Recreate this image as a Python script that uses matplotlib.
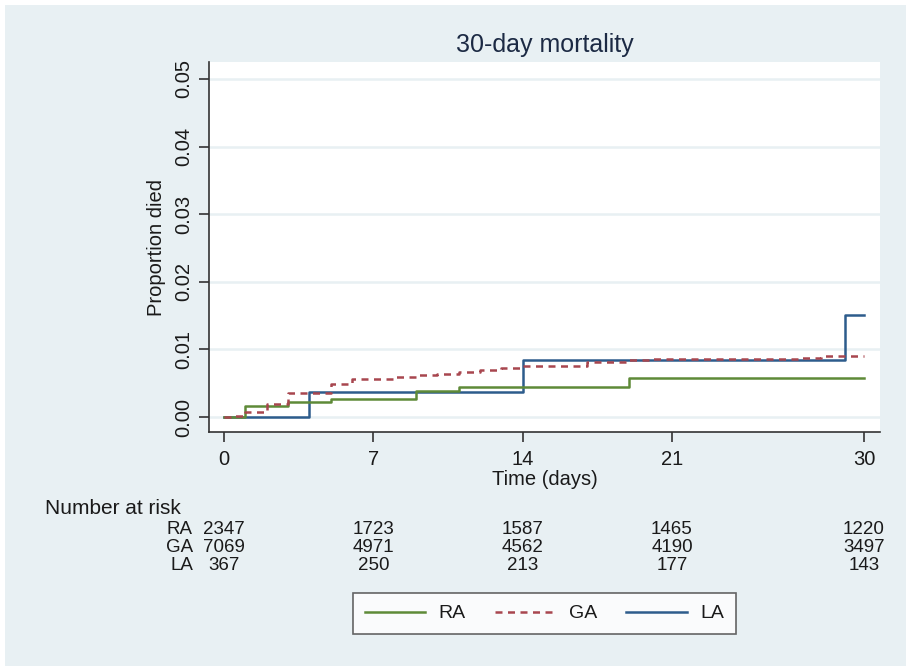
import numpy as np
import matplotlib.pyplot as plt
from matplotlib.patches import Rectangle
from matplotlib.lines import Line2D
import matplotlib.transforms as mtransforms

plt.rcParams['font.family'] = ['Liberation Sans', 'DejaVu Sans']

# Kaplan-Meier style failure curves (step at each time, value after the step)
ra_t = [0, 1, 3, 5, 9, 11, 19, 30]
ra_y = [0, 0.0016, 0.0022, 0.0027, 0.0039, 0.0045, 0.0058, 0.0058]

ga_t = [0, 0.5, 1, 2, 3, 5, 6, 8, 9, 10, 11, 12, 13, 14, 17, 19, 20, 27, 28, 30]
ga_y = [0, 0.0002, 0.0008, 0.0020, 0.0035, 0.0049, 0.0056, 0.0060, 0.0062,
        0.0064, 0.0066, 0.0070, 0.0072, 0.0076, 0.0081, 0.0084, 0.0086,
        0.0088, 0.0091, 0.0091]

la_t = [0, 4, 14, 29.1, 30]
la_y = [0, 0.0037, 0.0084, 0.0151, 0.0151]

groups = ['RA', 'GA', 'LA']
risk_times = [0, 7, 14, 21, 30]
risk_ra = [2347, 1723, 1587, 1465, 1220]
risk_ga = [7069, 4971, 4562, 4190, 3497]
risk_la = [367, 250, 213, 177, 143]

yticks = [0, 0.01, 0.02, 0.03, 0.04, 0.05]
ytick_labels = ['0.00', '0.01', '0.02', '0.03', '0.04', '0.05']

c_ra = '#5E8A38'
c_ga = '#A8464F'
c_la = '#2D5C8C'
bg = '#E8F0F3'
txt = '#1A1A1A'
lw = 1.8
dash = (0, (2.8, 2.2))

W, H = 906, 666
fig = plt.figure(figsize=(W / 100, H / 100), dpi=100, facecolor='white')
fig.patches.append(Rectangle((5 / W, 0), 1, 1 - 5 / H, transform=fig.transFigure,
                             facecolor=bg, edgecolor='none', zorder=-10))

ax = fig.add_axes([209 / W, 1 - 432 / H, (880 - 209) / W, (432 - 62) / H])
ax.set_facecolor('white')

ax.step(la_t, la_y, where='post', color=c_la, lw=lw, zorder=3)
ax.step(ra_t, ra_y, where='post', color=c_ra, lw=lw, zorder=4)
ax.step(ga_t, ga_y, where='post', color=c_ga, lw=lw, ls=dash, zorder=5)

ax.set_xlim(-0.7, 30.75)
ax.set_ylim(-0.0022, 0.0525)
ax.set_xticks(risk_times)
ax.set_yticks(yticks)
ax.set_yticklabels(ytick_labels, rotation=90, va='center')
ax.tick_params(axis='both', labelsize=14.5, length=7, width=1.2, color='#333333',
               labelcolor=txt, direction='out')
ax.tick_params(axis='y', pad=4)
ax.tick_params(axis='x', pad=6)
ax.yaxis.grid(True, color='#E8F0F3', lw=1.8, zorder=0)
ax.set_axisbelow(True)
for s in ['top', 'right']:
    ax.spines[s].set_visible(False)
for s in ['left', 'bottom']:
    ax.spines[s].set_color('#333333')
    ax.spines[s].set_linewidth(1.2)

ax.set_ylabel('Proportion died', fontsize=14.5, color=txt, labelpad=6)
ax.set_xlabel('Time (days)', fontsize=14.5, color=txt, labelpad=1)
fig.text(545 / W, 1 - 45 / H, '30-day mortality', fontsize=18, color='#1C2A44',
         ha='center', va='center')

# number at risk table
tr = mtransforms.blended_transform_factory(ax.transData, fig.transFigure)
fig.text(45 / W, 1 - 508 / H, 'Number at risk', fontsize=15, color=txt,
         ha='left', va='center')
rows = [risk_ra, risk_ga, risk_la]
row_y = [530, 548, 566]
for g, vals, yy in zip(groups, rows, row_y):
    fig.text(193 / W, 1 - yy / H, g, fontsize=13.5, color=txt, ha='right', va='center')
    for t, v in zip(risk_times, vals):
        ax.text(t, 1 - yy / H, str(v), transform=tr, fontsize=13.5, color=txt,
                ha='center', va='center', clip_on=False)

handles = [Line2D([], [], color=c_ra, lw=lw),
           Line2D([], [], color=c_ga, lw=lw, ls=dash),
           Line2D([], [], color=c_la, lw=lw)]
leg = fig.legend(handles, groups, loc='center', ncol=3,
                 bbox_to_anchor=((354 + 735) / 2 / W, 1 - 613.5 / H),
                 fontsize=14, frameon=True, fancybox=False, handlelength=3.1,
                 handletextpad=0.7, columnspacing=1.5, borderpad=0.6)
leg.get_frame().set_edgecolor('#404040')
leg.get_frame().set_linewidth(1.2)
for t in leg.get_texts():
    t.set_color(txt)

fig.savefig('out.png', dpi=100, facecolor=fig.get_facecolor())
